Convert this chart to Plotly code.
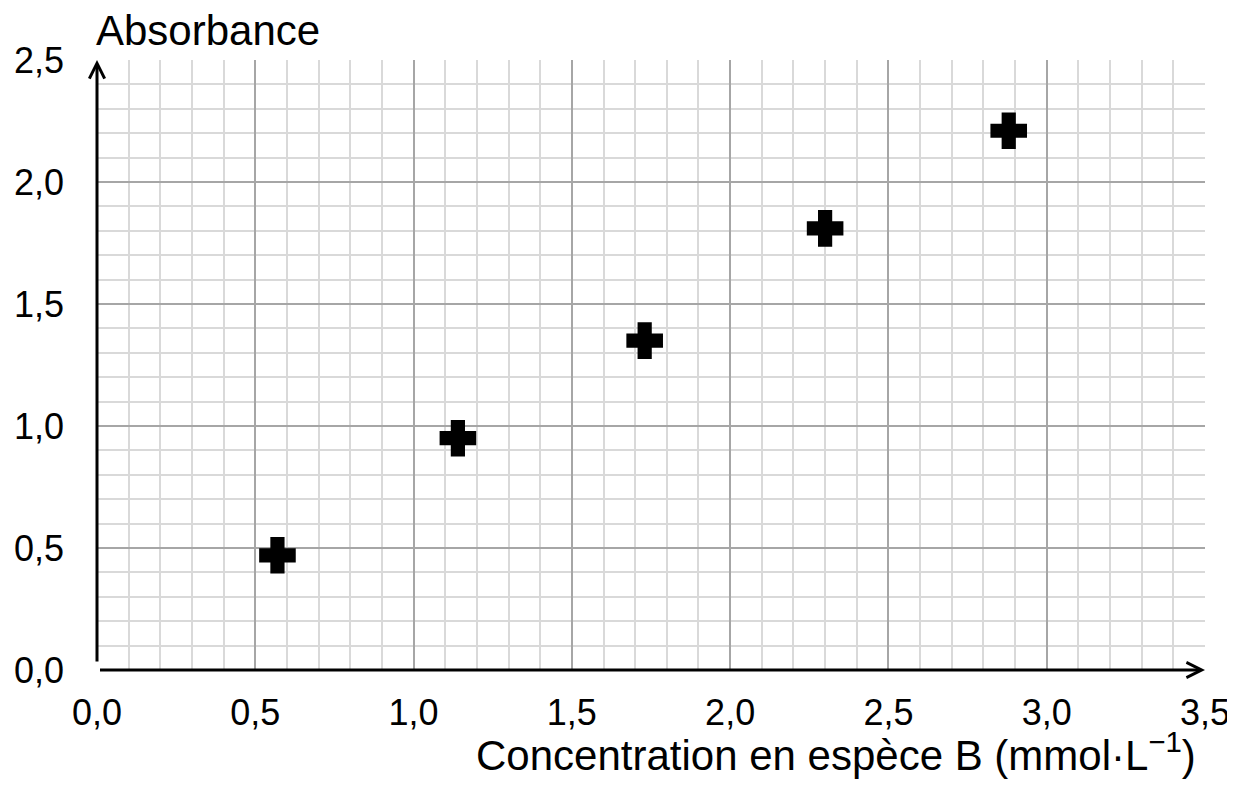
import plotly.graph_objects as go

# Data
concentration = [0.57, 1.14, 1.73, 2.30, 2.88]   # mmol/L
absorbance = [0.47, 0.95, 1.35, 1.81, 2.21]

x_title = "Concentration en espèce B (mmol·L<sup>−1</sup>)"
y_title = "Absorbance"

FONT = "Liberation Sans, Arial, sans-serif"

fig = go.Figure()
fig.add_trace(go.Scatter(
    x=concentration, y=absorbance, mode="markers",
    marker=dict(symbol="cross", size=28, color="black",
                line=dict(color="black", width=3)),
    showlegend=False, hoverinfo="x+y",
))

grid_major = "#a6a6a6"
grid_minor = "#d9d9d9"

fig.update_xaxes(
    range=[0, 3.5], dtick=0.5, tick0=0, tickformat=".1f",
    showgrid=True, gridcolor=grid_major, gridwidth=2,
    minor=dict(dtick=0.1, tick0=0, showgrid=True, gridcolor=grid_minor, gridwidth=2),
    zeroline=False, showline=False, ticks="",
    ticklabelstandoff=18, automargin=False,
    tickfont=dict(family=FONT, size=36, color="black"),
    fixedrange=True,
)
fig.update_yaxes(
    range=[0, 2.5], dtick=0.5, tick0=0, tickformat=".1f",
    showgrid=True, gridcolor=grid_major, gridwidth=2,
    minor=dict(dtick=0.1, tick0=0, showgrid=True, gridcolor=grid_minor, gridwidth=2),
    zeroline=False, showline=False, ticks="",
    ticklabelstandoff=32, automargin=False,
    tickfont=dict(family=FONT, size=36, color="black"),
    fixedrange=True,
)

# Axis arrows
fig.add_annotation(x=3.5, y=0, ax=0, ay=0, xref="x", yref="y", axref="x", ayref="y",
                   text=" ", showarrow=True, arrowhead=5, arrowsize=1.0,
                   arrowwidth=3, arrowcolor="black")
fig.add_annotation(x=0, y=2.5, ax=0, ay=0, xref="x", yref="y", axref="x", ayref="y",
                   text=" ", showarrow=True, arrowhead=5, arrowsize=1.0,
                   arrowwidth=3, arrowcolor="black")

# Axis titles
fig.add_annotation(text=y_title, xref="paper", yref="paper", x=0, y=1,
                   xanchor="left", yanchor="bottom", yshift=4, xshift=-3,
                   showarrow=False,
                   font=dict(family=FONT, size=42, color="black"))
fig.add_annotation(text=x_title, xref="paper", yref="paper", x=1, y=0,
                   xanchor="right", yanchor="bottom", xshift=-8, yshift=-110,
                   showarrow=False, borderpad=0,
                   font=dict(family=FONT, size=42, color="black"))

# The page adds an 8px body margin, so the figure is offset by 8px
fig.update_layout(
    width=1227, height=773,
    margin=dict(l=89, r=30, t=52, b=111),
    paper_bgcolor="white", plot_bgcolor="white",
    separators=", ",
    font=dict(family=FONT, color="black"),
)

fig.write_html("out.html", config={"displayModeBar": False})
